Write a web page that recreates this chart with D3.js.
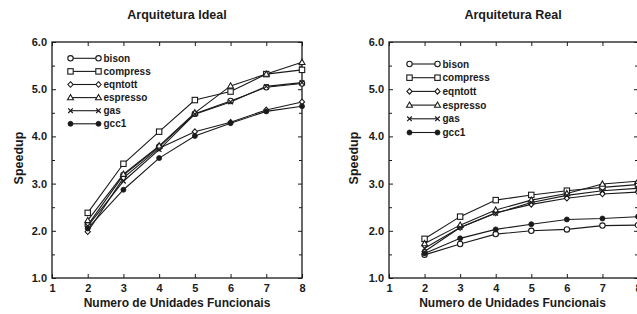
<!DOCTYPE html>
<html><head><meta charset="utf-8">
<script src="https://cdn.jsdelivr.net/npm/d3@7"></script>
<style>body{margin:0;background:#fff;}svg{display:block;font-family:"Liberation Sans",Arial,sans-serif;}</style>
</head><body><svg id="c" width="637" height="314"></svg>
<script>
const units = [2, 3, 4, 5, 6, 7, 8];
const seriesNames = ["bison", "compress", "eqntott", "espresso", "gas", "gcc1"];
const xTickLabels = [1, 2, 3, 4, 5, 6, 7, 8];
const yTickLabels = [1.0, 2.0, 3.0, 4.0, 5.0, 6.0];
const titles = ["Arquitetura Ideal", "Arquitetura Real"];
const xTitle = "Numero de Unidades Funcionais";
const yTitle = "Speedup";

// Arquitetura Ideal
const idealBison    = [2.12, 3.18, 3.78, 4.48, 4.75, 5.04, 5.12];
const idealCompress = [2.38, 3.42, 4.10, 4.77, 4.95, 5.32, 5.41];
const idealEqntott  = [1.98, 3.12, 3.75, 4.10, 4.30, 4.56, 4.73];
const idealEspresso = [2.22, 3.20, 3.80, 4.50, 5.07, 5.32, 5.57];
const idealGas      = [2.10, 3.05, 3.72, 4.47, 4.73, 5.06, 5.14];
const idealGcc1     = [2.05, 2.87, 3.54, 4.01, 4.28, 4.53, 4.64];

// Arquitetura Real
const realBison    = [1.49, 1.72, 1.93, 2.00, 2.03, 2.11, 2.12];
const realCompress = [1.83, 2.30, 2.65, 2.76, 2.85, 2.92, 2.98];
const realEqntott  = [1.56, 2.07, 2.38, 2.56, 2.69, 2.78, 2.82];
const realEspresso = [1.73, 2.12, 2.44, 2.65, 2.79, 2.99, 3.05];
const realGas      = [1.63, 2.07, 2.37, 2.60, 2.75, 2.85, 2.90];
const realGcc1     = [1.52, 1.84, 2.03, 2.14, 2.24, 2.26, 2.30];

const charts = [
  {title: titles[0], data: [idealBison, idealCompress, idealEqntott, idealEspresso, idealGas, idealGcc1],
   x0: 52, x1: 302, legX: 70.5, legY: 58.3, legDy: 13.1, titleX: 177, yLabX: 19},
  {title: titles[1], data: [realBison, realCompress, realEqntott, realEspresso, realGas, realGcc1],
   x0: 389, x1: 638, legX: 409.5, legY: 64, legDy: 13.7, titleX: 513, yLabX: 354}
];

const svg = d3.select("#c");
const ink = "#1a1a1a";

function marker(g, name, cx, cy) {
  if (name === "bison") {
    g.append("circle").attr("cx", cx).attr("cy", cy).attr("r", 2.7).attr("fill", "#fff").attr("stroke", ink).attr("stroke-width", 1.1);
  } else if (name === "compress") {
    g.append("rect").attr("x", cx - 2.7).attr("y", cy - 2.7).attr("width", 5.4).attr("height", 5.4).attr("fill", "#fff").attr("stroke", ink).attr("stroke-width", 1.1);
  } else if (name === "eqntott") {
    g.append("path").attr("d", `M${cx},${cy-2.8}L${cx+2.6},${cy}L${cx},${cy+2.8}L${cx-2.6},${cy}Z`).attr("fill", "#fff").attr("stroke", ink).attr("stroke-width", 1.1);
  } else if (name === "espresso") {
    g.append("path").attr("d", `M${cx},${cy-3.1}L${cx+3},${cy+2.2}L${cx-3},${cy+2.2}Z`).attr("fill", "#fff").attr("stroke", ink).attr("stroke-width", 1.1);
  } else if (name === "gas") {
    g.append("path").attr("d", `M${cx-2.3},${cy-2.3}L${cx+2.3},${cy+2.3}M${cx-2.3},${cy+2.3}L${cx+2.3},${cy-2.3}`).attr("stroke", ink).attr("stroke-width", 1.2);
  } else {
    g.append("circle").attr("cx", cx).attr("cy", cy).attr("r", 2.5).attr("fill", ink).attr("stroke", ink).attr("stroke-width", 0.8);
  }
}

charts.forEach(ch => {
  const x = d3.scaleLinear().domain([1, 8]).range([ch.x0, ch.x1]);
  const y = d3.scaleLinear().domain([1, 6]).range([278, 42]);
  const g = svg.append("g");

  // title
  g.append("text").attr("x", ch.titleX).attr("y", 19).attr("text-anchor", "middle")
    .attr("font-size", 12.5).attr("font-weight", "bold").attr("fill", ink).text(ch.title);

  // frame
  g.append("rect").attr("x", x(1)).attr("y", y(6)).attr("width", x(8) - x(1)).attr("height", y(1) - y(6))
    .attr("fill", "none").attr("stroke", ink).attr("stroke-width", 1.3);

  const minorY = d3.range(1.5, 6, 1);
  // left axis
  g.append("g").attr("transform", `translate(${x(1)},0)`)
    .call(d3.axisLeft(y).tickValues(yTickLabels).tickSize(-4).tickPadding(5).tickFormat(d3.format(".1f")));
  g.append("g").attr("transform", `translate(${x(1)},0)`)
    .call(d3.axisLeft(y).tickValues(minorY).tickSize(-3).tickFormat(""));
  // right axis mirror ticks
  g.append("g").attr("transform", `translate(${x(8)},0)`)
    .call(d3.axisRight(y).tickValues(yTickLabels).tickSize(-4).tickFormat(""));
  g.append("g").attr("transform", `translate(${x(8)},0)`)
    .call(d3.axisRight(y).tickValues(minorY).tickSize(-3).tickFormat(""));
  // bottom axis
  g.append("g").attr("transform", `translate(0,${y(1)})`)
    .call(d3.axisBottom(x).tickValues(xTickLabels).tickSize(-4).tickPadding(6).tickFormat(d3.format("d")));
  // top axis ticks
  g.append("g").attr("transform", `translate(0,${y(6)})`)
    .call(d3.axisTop(x).tickValues(xTickLabels).tickSize(-4).tickFormat(""));

  g.selectAll(".domain").remove();
  g.selectAll(".tick line").attr("stroke", ink).attr("stroke-width", 1);
  g.selectAll(".tick text").attr("font-size", 11).attr("font-weight", "bold").attr("fill", ink)
    .attr("font-family", "Liberation Sans, Arial, sans-serif");

  // axis titles
  g.append("text").attr("x", (x(1) + x(8)) / 2 + (ch.x0 > 300 ? -1 : 0)).attr("y", 307).attr("text-anchor", "middle")
    .attr("font-size", 12).attr("font-weight", "bold").attr("fill", ink).text(xTitle);
  g.append("text").attr("transform", `translate(${ch.yLabX},158) rotate(-90)`).attr("text-anchor", "middle")
    .attr("dy", "0.35em").attr("font-size", 12.5).attr("font-weight", "bold").attr("fill", ink).text(yTitle);

  // lines and markers
  const line = d3.line().x((d, i) => x(units[i])).y(d => y(d));
  ch.data.forEach((vals) => {
    g.append("path").attr("d", line(vals)).attr("fill", "none").attr("stroke", ink).attr("stroke-width", 1.1);
  });
  ch.data.forEach((vals, si) => {
    vals.forEach((v, i) => marker(g, seriesNames[si], x(units[i]), y(v)));
  });

  // legend
  seriesNames.forEach((name, si) => {
    const ly = ch.legY + si * ch.legDy;
    g.append("line").attr("x1", ch.legX).attr("x2", ch.legX + 28).attr("y1", ly).attr("y2", ly)
      .attr("stroke", ink).attr("stroke-width", 1.1);
    marker(g, name, ch.legX, ly);
    marker(g, name, ch.legX + 28, ly);
    g.append("text").attr("x", ch.legX + 33).attr("y", ly).attr("dy", "0.35em")
      .attr("font-size", 10).attr("font-weight", "bold").attr("fill", ink).text(name);
  });
});
</script></body></html>
